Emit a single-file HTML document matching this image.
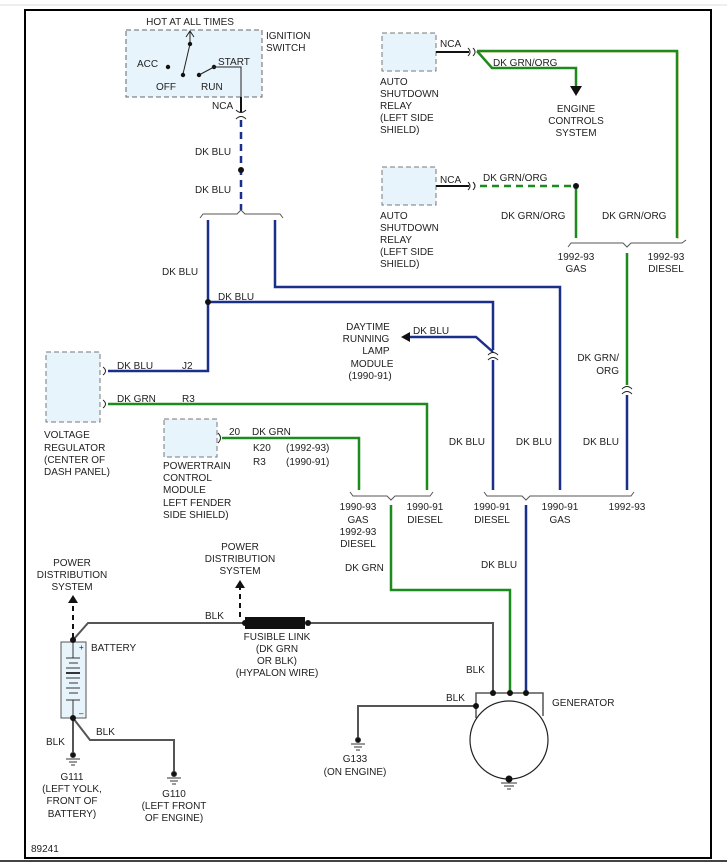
<!DOCTYPE html>
<html><head><meta charset="utf-8"><style>
html,body{margin:0;padding:0;background:#fff;}
svg{display:block;}
text{font-family:"Liberation Sans",sans-serif;font-size:10px;fill:#222;}
</style></head><body>
<svg width="727" height="862" viewBox="0 0 727 862" xmlns="http://www.w3.org/2000/svg">
<line x1="0" y1="5" x2="727" y2="5" stroke="#ddd" stroke-width="1"/>
<line x1="0" y1="861" x2="727" y2="861" stroke="#444" stroke-width="2"/>
<rect x="25" y="10" width="686" height="848" fill="none" stroke="#000" stroke-width="2"/>

<!-- Ignition switch -->
<rect x="126" y="30" width="136" height="67" fill="#e8f4fb" stroke="#666" stroke-dasharray="5,3"/>
<text x="190" y="25" text-anchor="middle">HOT AT ALL TIMES</text>
<text x="266" y="39">IGNITION</text><text x="266" y="51">SWITCH</text>
<line x1="190" y1="32" x2="190" y2="44" stroke="#222"/>
<path d="M186,37 L190,31 L194,37" fill="none" stroke="#222"/>
<line x1="190" y1="44" x2="183" y2="74" stroke="#222"/>
<circle cx="190" cy="44" r="2.2" fill="#111"/>
<circle cx="168" cy="67" r="2.2" fill="#111"/><circle cx="183" cy="75" r="2.2" fill="#111"/>
<circle cx="199" cy="75" r="2.2" fill="#111"/><circle cx="214" cy="67" r="2.2" fill="#111"/>
<line x1="199" y1="75" x2="214" y2="67" stroke="#222"/>
<polyline points="214,67 241,67 241,97" fill="none" stroke="#222"/>
<text x="137" y="67">ACC</text><text x="156" y="90">OFF</text><text x="201" y="90">RUN</text><text x="218" y="65">START</text>
<line x1="241" y1="97" x2="241" y2="112" stroke="#111" stroke-width="2"/>
<text x="212" y="109">NCA</text>
<path d="M236,110 Q241,115 246,110 M236,119 Q241,114 246,119" fill="none" stroke="#222"/>
<line x1="241" y1="120" x2="241" y2="210" stroke="#1a2f8a" stroke-width="2.5" stroke-dasharray="7,5"/>
<circle cx="241" cy="170" r="3" fill="#111"/>
<text x="195" y="155">DK BLU</text><text x="195" y="193">DK BLU</text>
<path d="M200,218 L203,214 L237,214 L241,210 L245,214 L280,214 L283,218" fill="none" stroke="#555"/>

<!-- blue wires -->
<g fill="none" stroke="#1a2f8a" stroke-width="2.5">
<polyline points="208,220 208,371 108,371"/>
<polyline points="208,302 493,302 493,350"/>
<line x1="493" y1="360" x2="493" y2="490"/>
<polyline points="275,220 275,287 560,287 560,490"/>
<polyline points="493,352 476,337 408,337"/>
<line x1="627" y1="395" x2="627" y2="490"/>
<line x1="526" y1="505" x2="526" y2="693"/>
</g>
<circle cx="208" cy="302" r="3" fill="#111"/>
<text x="162" y="275">DK BLU</text><text x="218" y="300">DK BLU</text>
<polygon points="401,337 410,332 410,342" fill="#111"/>
<text x="413" y="334">DK BLU</text>
<path d="M488,355 Q493,350 498,355 M488,360 Q493,355 498,360" fill="none" stroke="#222"/>
<g text-anchor="middle"><text x="368" y="330">DAYTIME</text><text x="366" y="342">RUNNING</text><text x="376" y="354">LAMP</text><text x="372" y="367">MODULE</text><text x="370" y="379">(1990-91)</text></g>
<g text-anchor="end"><text x="485" y="445">DK BLU</text><text x="552" y="445">DK BLU</text><text x="619" y="445">DK BLU</text></g>

<!-- relays -->
<rect x="382" y="33" width="54" height="38" fill="#e8f4fb" stroke="#777" stroke-dasharray="5,3"/>
<rect x="382" y="167" width="54" height="38" fill="#e8f4fb" stroke="#777" stroke-dasharray="5,3"/>
<g><text x="380" y="85">AUTO</text><text x="380" y="97">SHUTDOWN</text><text x="380" y="109">RELAY</text><text x="380" y="121">(LEFT SIDE</text><text x="380" y="133">SHIELD)</text></g>
<g><text x="380" y="219">AUTO</text><text x="380" y="231">SHUTDOWN</text><text x="380" y="243">RELAY</text><text x="380" y="255">(LEFT SIDE</text><text x="380" y="267">SHIELD)</text></g>
<text x="440" y="47">NCA</text><text x="440" y="183">NCA</text>
<line x1="436" y1="52" x2="469" y2="52" stroke="#111" stroke-width="2"/>
<line x1="436" y1="186" x2="469" y2="186" stroke="#111" stroke-width="2"/>
<path d="M468,48 Q472,52 468,56 M473,48 Q477,52 473,56" fill="none" stroke="#222"/>
<path d="M468,182 Q472,186 468,190 M473,182 Q477,186 473,190" fill="none" stroke="#222"/>
<g fill="none" stroke-width="2.5">
<polyline points="477,51 677,51 677,238" stroke="#f0b060" transform="translate(0.8,0.8)" stroke-width="1.5"/>
<polyline points="477,51 677,51 677,238" stroke="#1d8a1d"/>
<polyline points="477,51 492,68 576,68 576,86" stroke="#1d8a1d"/>
<line x1="480" y1="186" x2="576" y2="186" stroke="#1d8a1d" stroke-dasharray="7,5"/>
<line x1="576" y1="186" x2="576" y2="238" stroke="#1d8a1d"/>
<line x1="627" y1="253" x2="627" y2="385" stroke="#1d8a1d"/>
</g>
<polygon points="570,86 582,86 576,96" fill="#111"/>
<circle cx="576" cy="186" r="3" fill="#111"/>
<text x="493" y="66">DK GRN/ORG</text><text x="483" y="181">DK GRN/ORG</text>
<g text-anchor="middle"><text x="576" y="112">ENGINE</text><text x="576" y="124">CONTROLS</text><text x="576" y="136">SYSTEM</text></g>
<text x="501" y="219">DK GRN/ORG</text><text x="602" y="219">DK GRN/ORG</text>
<path d="M568,247 L571,243 L623,243 L627,247 L631,243 L682,243 L686,240" fill="none" stroke="#555"/>
<g text-anchor="middle"><text x="576" y="260">1992-93</text><text x="576" y="272">GAS</text><text x="666" y="260">1992-93</text><text x="666" y="272">DIESEL</text></g>
<g text-anchor="end"><text x="619" y="361">DK GRN/</text><text x="619" y="374">ORG</text></g>
<path d="M622,389 Q627,384 632,389 M622,394 Q627,389 632,394" fill="none" stroke="#222"/>

<!-- voltage regulator / PCM -->
<rect x="46" y="352" width="54" height="70" fill="#e8f4fb" stroke="#777" stroke-dasharray="5,3"/>
<path d="M103,367 Q108,371 103,375 M103,400 Q108,404 103,408" fill="none" stroke="#222"/>
<g fill="none" stroke="#1d8a1d" stroke-width="2.5">
<polyline points="108,404 427,404 427,490"/>
<polyline points="222,438 359,438 359,490"/>
<polyline points="391,505 391,590 510,590 510,693"/>
</g>
<text x="117" y="369">DK BLU</text><text x="182" y="369">J2</text>
<text x="117" y="402">DK GRN</text><text x="182" y="402">R3</text>
<g><text x="44" y="438">VOLTAGE</text><text x="44" y="451">REGULATOR</text><text x="44" y="463">(CENTER OF</text><text x="44" y="475">DASH PANEL)</text></g>
<rect x="164" y="419" width="53" height="38" fill="#e8f4fb" stroke="#777" stroke-dasharray="5,3"/>
<path d="M218,433 Q223,438 218,443" fill="none" stroke="#222"/>
<text x="229" y="435">20</text><text x="252" y="435">DK GRN</text>
<text x="253" y="451">K20</text><text x="286" y="451">(1992-93)</text>
<text x="253" y="465">R3</text><text x="286" y="465">(1990-91)</text>
<g><text x="163" y="469">POWERTRAIN</text><text x="163" y="481">CONTROL</text><text x="163" y="493">MODULE</text><text x="163" y="506">LEFT FENDER</text><text x="163" y="518">SIDE SHIELD)</text></g>

<!-- lower brackets -->
<path d="M350,492 L353,496 L387,496 L391,500 L395,496 L430,496 L433,492" fill="none" stroke="#555"/>
<path d="M484,492 L487,496 L522,496 L526,500 L530,496 L631,496 L634,492" fill="none" stroke="#555"/>
<g text-anchor="middle">
<text x="358" y="510">1990-93</text><text x="358" y="523">GAS</text><text x="358" y="535">1992-93</text><text x="358" y="547">DIESEL</text>
<text x="425" y="510">1990-91</text><text x="425" y="523">DIESEL</text>
<text x="492" y="510">1990-91</text><text x="492" y="523">DIESEL</text>
<text x="560" y="510">1990-91</text><text x="560" y="523">GAS</text>
<text x="627" y="510">1992-93</text>
</g>
<text x="345" y="571">DK GRN</text><text x="481" y="568">DK BLU</text>

<!-- battery / power -->
<g fill="none" stroke="#555" stroke-width="2">
<polyline points="73,640 88,623 245,623"/>
<polyline points="308,623 493,623 493,693"/>
<line x1="73" y1="718" x2="73" y2="752"/>
<polyline points="73,718 90,740 174,740 174,772"/>
<polyline points="476,706 358,706 358,738"/>
</g>
<rect x="245" y="617" width="60" height="12" fill="#111"/>
<circle cx="245" cy="623" r="3" fill="#111"/><circle cx="308" cy="623" r="3" fill="#111"/>
<line x1="73" y1="638" x2="73" y2="602" stroke="#111" stroke-width="2" stroke-dasharray="5,4"/>
<polygon points="68,603 78,603 73,595" fill="#111"/>
<line x1="240" y1="617" x2="240" y2="587" stroke="#111" stroke-width="2" stroke-dasharray="5,4"/>
<polygon points="235,588 245,588 240,580" fill="#111"/>
<g text-anchor="middle"><text x="72" y="566">POWER</text><text x="72" y="578">DISTRIBUTION</text><text x="72" y="590">SYSTEM</text>
<text x="240" y="550">POWER</text><text x="240" y="562">DISTRIBUTION</text><text x="240" y="574">SYSTEM</text>
<text x="277" y="640">FUSIBLE LINK</text><text x="277" y="652">(DK GRN</text><text x="277" y="664">OR BLK)</text><text x="277" y="676">(HYPALON WIRE)</text></g>
<text x="205" y="619">BLK</text>
<rect x="61" y="642" width="25" height="76" fill="#e8f4fb" stroke="#555"/>
<g stroke="#333" stroke-width="1"><line x1="73" y1="643" x2="73" y2="658"/><line x1="66" y1="658" x2="80" y2="658"/><line x1="69" y1="663" x2="78" y2="663"/><line x1="66" y1="668" x2="80" y2="668"/><line x1="66" y1="673" x2="80" y2="673" stroke-width="2"/><line x1="66" y1="678" x2="80" y2="678"/><line x1="69" y1="683" x2="78" y2="683"/><line x1="66" y1="688" x2="80" y2="688"/><line x1="69" y1="693" x2="78" y2="693"/><line x1="66" y1="700" x2="80" y2="700"/><line x1="73" y1="700" x2="73" y2="716"/></g>
<text x="79" y="650" style="font-size:8px">+</text><text x="79" y="716" style="font-size:8px">–</text>
<circle cx="73" cy="640" r="3" fill="#111"/><circle cx="73" cy="718" r="3" fill="#111"/>
<text x="91" y="651">BATTERY</text>
<text x="46" y="745">BLK</text><text x="96" y="735">BLK</text>
<!-- grounds -->
<g fill="#111" stroke="#333">
<circle cx="73" cy="755" r="2.5"/><line x1="66" y1="759" x2="80" y2="759"/><line x1="69" y1="762" x2="77" y2="762"/><line x1="71" y1="765" x2="75" y2="765"/>
<circle cx="174" cy="774" r="2.5"/><line x1="167" y1="778" x2="181" y2="778"/><line x1="170" y1="781" x2="178" y2="781"/><line x1="172" y1="784" x2="176" y2="784"/>
<circle cx="358" cy="740" r="2.5"/><line x1="351" y1="744" x2="365" y2="744"/><line x1="354" y1="747" x2="362" y2="747"/><line x1="356" y1="750" x2="360" y2="750"/>
</g>
<g text-anchor="middle"><text x="72" y="780">G111</text><text x="72" y="792">(LEFT YOLK,</text><text x="72" y="804">FRONT OF</text><text x="72" y="817">BATTERY)</text>
<text x="174" y="797">G110</text><text x="174" y="809">(LEFT FRONT</text><text x="174" y="821">OF ENGINE)</text>
<text x="355" y="762">G133</text><text x="355" y="775">(ON ENGINE)</text></g>

<!-- generator -->
<polyline points="476,718 476,693 543,693 543,716" fill="none" stroke="#555" stroke-width="1.5"/>
<circle cx="509" cy="740" r="39" fill="#fff" stroke="#222" stroke-width="1.2"/>
<circle cx="493" cy="693" r="3" fill="#111"/><circle cx="510" cy="693" r="3" fill="#111"/><circle cx="526" cy="693" r="3" fill="#111"/><circle cx="476" cy="706" r="3" fill="#111"/>
<circle cx="509" cy="779" r="3.5" fill="#111"/>
<g stroke="#333"><line x1="501" y1="783" x2="517" y2="783"/><line x1="504" y1="786" x2="514" y2="786"/><line x1="507" y1="789" x2="511" y2="789"/></g>
<text x="552" y="706">GENERATOR</text>
<text x="466" y="673">BLK</text><text x="446" y="701">BLK</text>
<text x="31" y="852">89241</text>
</svg>
</body></html>
